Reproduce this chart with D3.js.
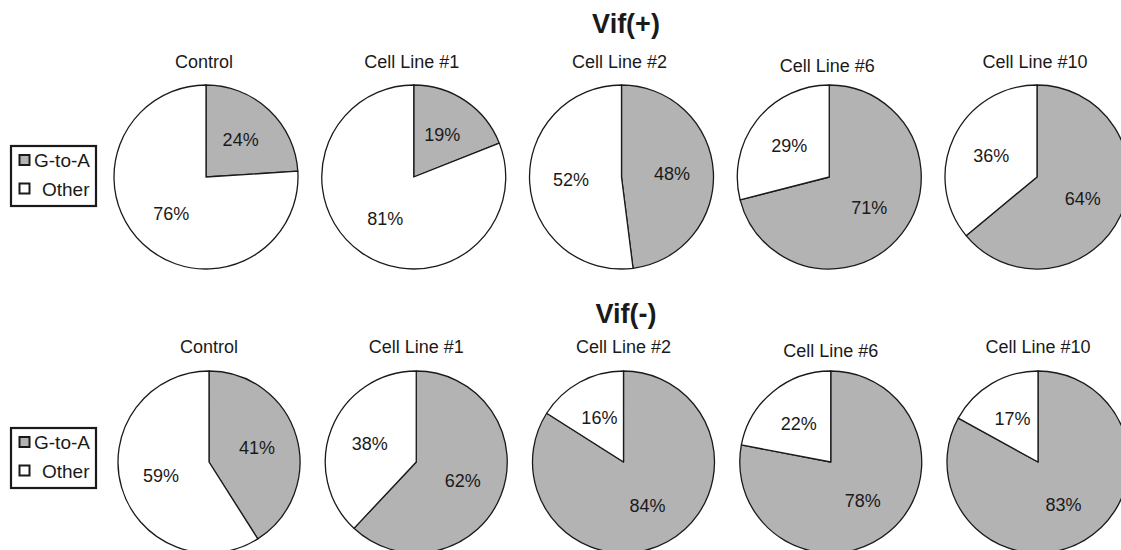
<!DOCTYPE html>
<html>
<head>
<meta charset="utf-8">
<script src="https://cdn.jsdelivr.net/npm/d3@7"></script>
<style>
  html, body { margin: 0; padding: 0; background: #fff; }
  svg { display: block; font-family: Arial, "Liberation Sans", Helvetica, sans-serif; }
</style>
</head>
<body>
<svg id="chart" width="1121" height="550"></svg>
<script>
// ---- data ----
const categories = ["Control", "Cell Line #1", "Cell Line #2", "Cell Line #6", "Cell Line #10"];
const seriesNames = ["G-to-A", "Other"];
const groupTitles = ["Vif(+)", "Vif(-)"];
const vifPlusGtoA = [24, 19, 48, 71, 64];
const vifPlusOther = [76, 81, 52, 29, 36];
const vifMinusGtoA = [41, 62, 84, 78, 83];
const vifMinusOther = [59, 38, 16, 22, 17];

// ---- layout ----
const svg = d3.select("#chart");
const colors = d3.scaleOrdinal().domain(seriesNames).range(["#b3b3b3", "#ffffff"]);
const ink = "#1a1a1a";

const rows = [
  { title: groupTitles[0], gtoa: vifPlusGtoA, other: vifPlusOther,
    cy: 177, r: 92, xRange: [206, 1037], titleY: 33, catY: 68, legendY: 146 },
  { title: groupTitles[1], gtoa: vifMinusGtoA, other: vifMinusOther,
    cy: 462, r: 91, xRange: [209, 1038], titleY: 323, catY: 353, legendY: 428 }
];

const pie = d3.pie().sort(null).value(d => d.value);

rows.forEach(row => {
  const x = d3.scalePoint().domain(categories).range(row.xRange);
  const arc = d3.arc().innerRadius(0).outerRadius(row.r);
  const labelArc = d3.arc().innerRadius(row.r * 0.55).outerRadius(row.r * 0.55);

  // group title
  svg.append("text")
    .attr("x", 626).attr("y", row.titleY)
    .attr("text-anchor", "middle")
    .attr("font-size", 27).attr("font-weight", "bold")
    .attr("fill", ink)
    .text(row.title);

  categories.forEach((cat, i) => {
    const cx = x(cat);
    const g = svg.append("g").attr("transform", `translate(${cx},${row.cy})`);
    const data = [
      { name: seriesNames[0], value: row.gtoa[i] },
      { name: seriesNames[1], value: row.other[i] }
    ];
    const arcs = pie(data);
    g.selectAll("path").data(arcs).join("path")
      .attr("d", arc)
      .attr("fill", d => colors(d.data.name))
      .attr("stroke", ink)
      .attr("stroke-width", 1.3)
      .attr("stroke-linejoin", "round");
    g.selectAll("text").data(arcs).join("text")
      .attr("transform", d => `translate(${labelArc.centroid(d)})`)
      .attr("text-anchor", "middle")
      .attr("dy", "0.35em")
      .attr("font-size", 18)
      .attr("fill", ink)
      .text(d => d.data.value + "%");

    svg.append("text")
      .attr("x", cx - (row.cy < 300 ? 2 : 0)).attr("y", row.catY + (cat === "Cell Line #6" ? 4 : 0))
      .attr("text-anchor", "middle")
      .attr("font-size", 18)
      .attr("fill", ink)
      .text(cat);
  });

  // legend
  const lg = svg.append("g").attr("transform", `translate(11,${row.legendY})`);
  lg.append("rect").attr("x", 0).attr("y", 0).attr("width", 85).attr("height", 60)
    .attr("fill", "#fff").attr("stroke", ink).attr("stroke-width", 2.2);
  seriesNames.forEach((s, j) => {
    lg.append("rect")
      .attr("x", 8.5).attr("y", 9 + j * 28.5)
      .attr("width", 10).attr("height", 10)
      .attr("fill", colors(s)).attr("stroke", ink).attr("stroke-width", 2);
    lg.append("text")
      .attr("x", j === 0 ? 23 : 31).attr("y", 20.5 + j * 29)
      .attr("font-size", 19)
      .attr("fill", ink)
      .text(s);
  });
});
</script>
</body>
</html>
